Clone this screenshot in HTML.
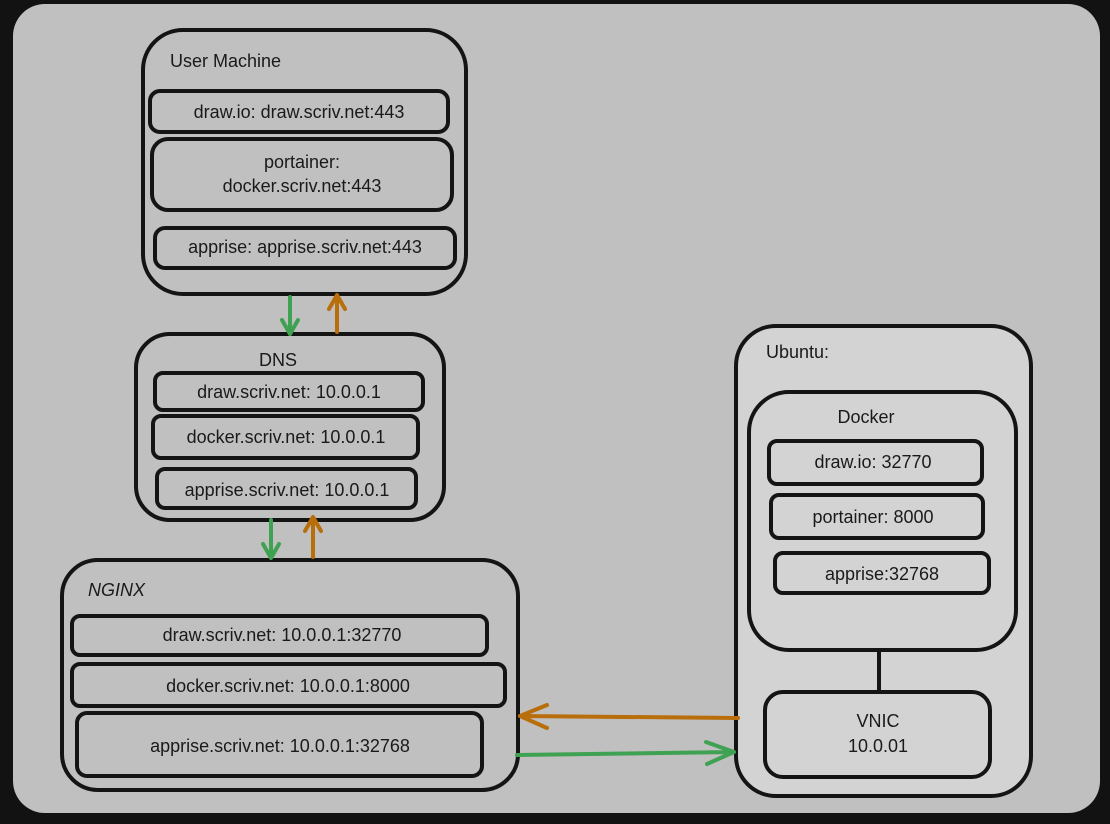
<!DOCTYPE html>
<html><head><meta charset="utf-8"><style>
html,body{margin:0;padding:0;background:#121212;}
svg{display:block}
text{font-family:"Liberation Sans",sans-serif;font-size:18px;fill:#1a1a1a;}
</style></head><body>
<svg width="1110" height="824" viewBox="0 0 1110 824" xmlns="http://www.w3.org/2000/svg">
<rect x="0" y="0" width="1110" height="824" fill="#121212"/>
<rect x="13" y="4" width="1087" height="809" rx="32" fill="#c0c0c0"/>
<g fill="none" stroke="#141414" stroke-width="4">
<rect x="143" y="30" width="323" height="264" rx="40"/>
<rect x="150" y="91" width="298" height="41" rx="10"/>
<rect x="152" y="139" width="300" height="71" rx="16"/>
<rect x="155" y="228" width="300" height="40" rx="10"/>
<rect x="136" y="334" width="308" height="186" rx="34"/>
<rect x="155" y="373" width="268" height="37" rx="8"/>
<rect x="153" y="416" width="265" height="42" rx="8"/>
<rect x="157" y="469" width="259" height="39" rx="8"/>
<rect x="62" y="560" width="456" height="230" rx="36"/>
<rect x="72" y="616" width="415" height="39" rx="8"/>
<rect x="72" y="664" width="433" height="42" rx="8"/>
<rect x="77" y="713" width="405" height="63" rx="10"/>
<rect x="736" y="326" width="295" height="470" rx="40" fill="#d3d3d3"/>
<rect x="749" y="392" width="267" height="258" rx="40"/>
<rect x="769" y="441" width="213" height="43" rx="8"/>
<rect x="771" y="495" width="212" height="43" rx="8"/>
<rect x="775" y="553" width="214" height="40" rx="8"/>
<line x1="879" y1="650" x2="879" y2="693"/>
<rect x="765" y="692" width="225" height="85" rx="18"/>
</g>
<g fill="none" stroke-width="4" stroke-linecap="round" stroke-linejoin="round">
<g stroke="#3fa152">
<path d="M290 297 L290 334 M282 320 L290 334 L298 320"/>
<path d="M271 520 L271 558 M263 544 L271 558 L279 544"/>
<path d="M517 755 L734 752 M706 742 L734 752 L707 764"/>
</g>
<g stroke="#b86e0a">
<path d="M337 332 L337 295 M329 309 L337 295 L345 309"/>
<path d="M313 557 L313 517 M305 531 L313 517 L321 531"/>
<path d="M738 718 L520 716 M547 705 L520 716 L547 728"/>
</g>
</g>
<text x="170" y="67">User Machine</text>
<text x="299" y="118" text-anchor="middle">draw.io: draw.scriv.net:443</text>
<text x="302" y="168" text-anchor="middle">portainer:</text>
<text x="302" y="192" text-anchor="middle">docker.scriv.net:443</text>
<text x="305" y="253" text-anchor="middle">apprise: apprise.scriv.net:443</text>
<text x="278" y="366" text-anchor="middle">DNS</text>
<text x="289" y="398" text-anchor="middle">draw.scriv.net: 10.0.0.1</text>
<text x="286" y="443" text-anchor="middle">docker.scriv.net: 10.0.0.1</text>
<text x="287" y="496" text-anchor="middle">apprise.scriv.net: 10.0.0.1</text>
<text x="88" y="596" font-style="italic">NGINX</text>
<text x="282" y="641" text-anchor="middle">draw.scriv.net: 10.0.0.1:32770</text>
<text x="288" y="692" text-anchor="middle">docker.scriv.net: 10.0.0.1:8000</text>
<text x="280" y="752" text-anchor="middle">apprise.scriv.net: 10.0.0.1:32768</text>
<text x="766" y="358">Ubuntu:</text>
<text x="866" y="423" text-anchor="middle">Docker</text>
<text x="873" y="468" text-anchor="middle">draw.io: 32770</text>
<text x="873" y="523" text-anchor="middle">portainer: 8000</text>
<text x="882" y="580" text-anchor="middle">apprise:32768</text>
<text x="878" y="727" text-anchor="middle">VNIC</text>
<text x="878" y="752" text-anchor="middle">10.0.01</text>
</svg>
</body></html>
